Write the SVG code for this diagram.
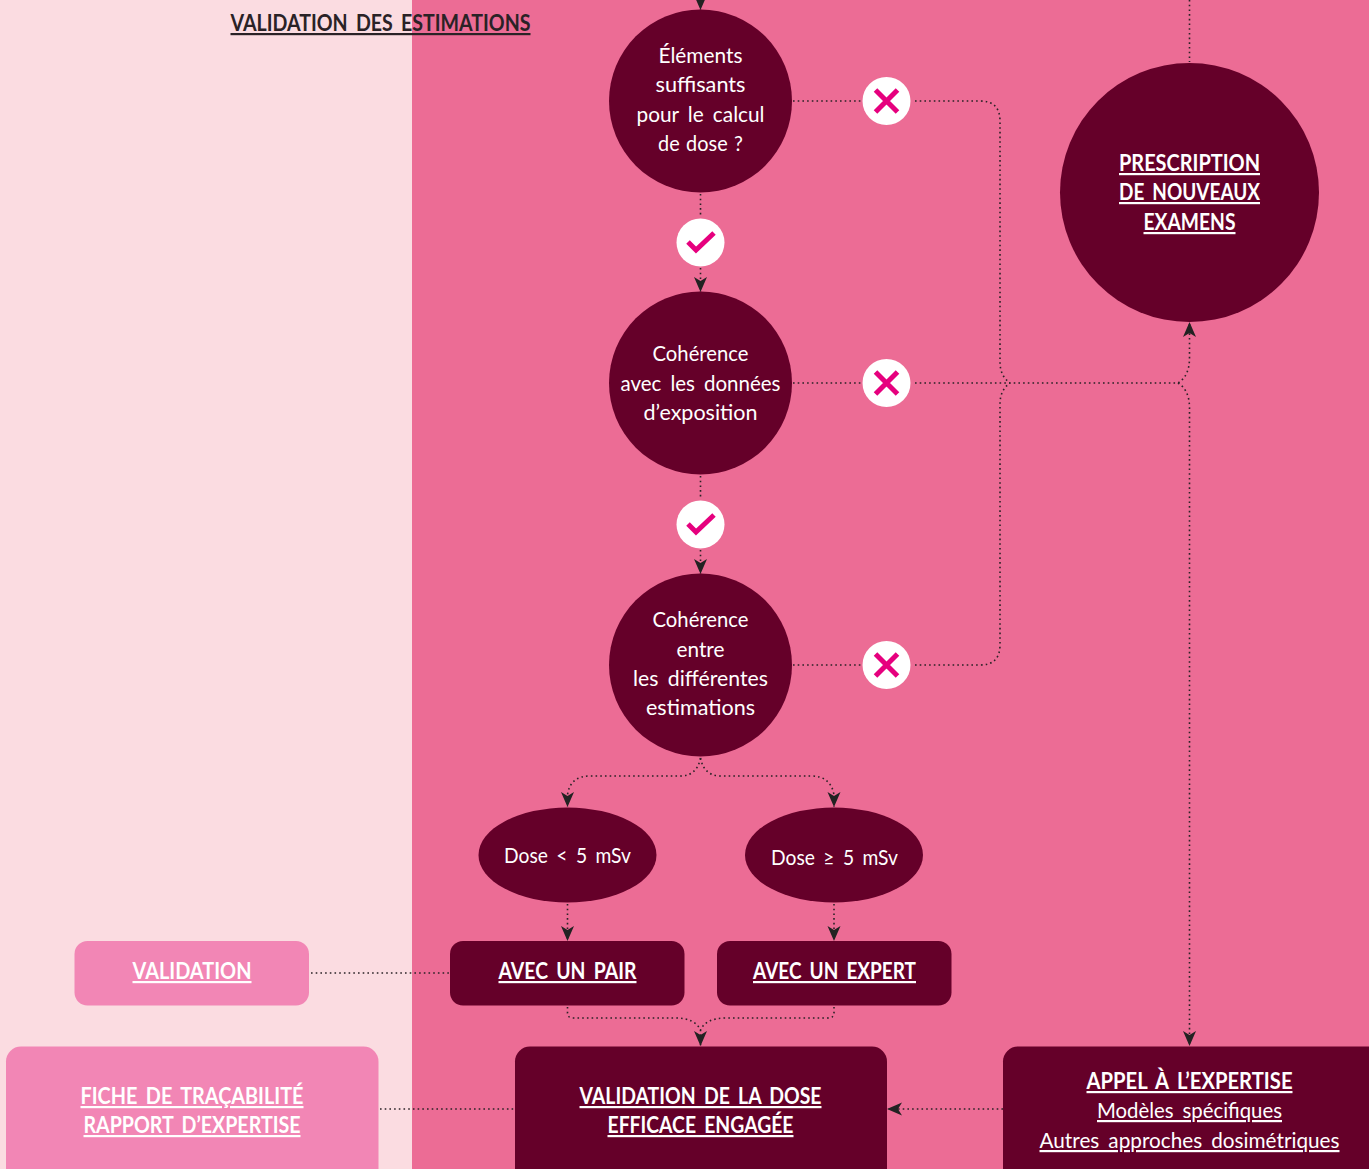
<svg xmlns="http://www.w3.org/2000/svg" width="1369" height="1169" viewBox="0 0 1369 1169">
<defs>
<marker id="arr" viewBox="0 0 15 14" refX="15" refY="7" markerWidth="15" markerHeight="14" markerUnits="userSpaceOnUse" orient="auto"><path d="M0 0.500L15 7L0 13.500L4 7Z" fill="#222"/></marker>
</defs>
<style>
text{font-family:"Lato","Noto Sans","Liberation Sans",sans-serif;fill:#fff;text-anchor:middle;font-size:22px;word-spacing:4px}
.b{font-weight:700;text-decoration:underline}
.d{fill:#650029}
.l{fill:#f286b5}
.c{fill:none;stroke:#2a2226;stroke-width:1.6;stroke-dasharray:1.6 3.1}
.m{fill:none;stroke:#e6007e;stroke-width:5}
</style>
<rect width="1369" height="1169" fill="#fbdce1"/>
<rect x="412" width="957" height="1169" fill="#ec6c95"/>
<g id="connectors">
<path class="c" d="M700.500 0V10" marker-end="url(#arr)"/>
<path class="c" d="M700.500 194V216"/>
<path class="c" d="M700.500 268V292" marker-end="url(#arr)"/>
<path class="c" d="M700.500 476V498"/>
<path class="c" d="M700.500 550V574" marker-end="url(#arr)"/>
<path class="c" d="M793 101H861"/>
<path class="c" d="M915 101H980Q1000 101 1000 121V362Q1000 376 1010 383"/>
<path class="c" d="M793 665H861"/>
<path class="c" d="M915 665H980Q1000 665 1000 645V404Q1000 390 1010 383"/>
<path class="c" d="M793 383H861"/>
<path class="c" d="M915 383H1178Q1189.500 376 1189.500 358V322" marker-end="url(#arr)"/>
<path class="c" d="M1178 383Q1189.500 390 1189.500 408V1046" marker-end="url(#arr)"/>
<path class="c" d="M1189.500 0V62"/>
<path class="c" d="M700.500 758Q697 776 680 776H590Q570 776 567.500 795V807" marker-end="url(#arr)"/>
<path class="c" d="M700.500 758Q704 776 721 776H811Q831 776 834 795V807" marker-end="url(#arr)"/>
<path class="c" d="M567.500 904V941" marker-end="url(#arr)"/>
<path class="c" d="M834 904V941" marker-end="url(#arr)"/>
<path class="c" d="M567.500 1007V1013Q567.500 1018 573 1018H675Q695 1018 700.500 1030V1046" marker-end="url(#arr)"/>
<path class="c" d="M834 1007V1013Q834 1018 828 1018H726Q706 1018 700.500 1030"/>
<path class="c" d="M311 973H450"/>
<path class="c" d="M380 1109H515"/>
<path class="c" d="M1003 1109H887" marker-end="url(#arr)"/>
</g>
<text class="b" x="380.500" y="31" style="fill:#2a2226" textLength="300" lengthAdjust="spacingAndGlyphs">VALIDATION DES ESTIMATIONS</text>
<g id="n1"><circle class="d" cx="700.500" cy="101" r="91.500"/>
<text x="700.500" y="63" textLength="84" lengthAdjust="spacingAndGlyphs">Éléments</text>
<text x="700.500" y="92" textLength="90" lengthAdjust="spacingAndGlyphs">suffisants</text>
<text x="700.500" y="122" textLength="128" lengthAdjust="spacingAndGlyphs">pour le calcul</text>
<text x="700.500" y="151" style="word-spacing:1.500px" textLength="85" lengthAdjust="spacingAndGlyphs">de dose ?</text></g>
<g id="n2"><circle class="d" cx="700.500" cy="383" r="91.500"/>
<text x="700.500" y="361" textLength="96" lengthAdjust="spacingAndGlyphs">Cohérence</text>
<text x="700.500" y="391" textLength="160" lengthAdjust="spacingAndGlyphs">avec les données</text>
<text x="700.500" y="420" textLength="114" lengthAdjust="spacingAndGlyphs">d’exposition</text></g>
<g id="n3"><circle class="d" cx="700.500" cy="665" r="91.500"/>
<text x="700.500" y="627" textLength="96" lengthAdjust="spacingAndGlyphs">Cohérence</text>
<text x="700.500" y="657" textLength="48" lengthAdjust="spacingAndGlyphs">entre</text>
<text x="700.500" y="686" textLength="135" lengthAdjust="spacingAndGlyphs">les différentes</text>
<text x="700.500" y="715" textLength="109" lengthAdjust="spacingAndGlyphs">estimations</text></g>
<g id="n4"><circle class="d" cx="1189.500" cy="192.500" r="129.500"/>
<text class="b" x="1189.500" y="171" textLength="141" lengthAdjust="spacingAndGlyphs">PRESCRIPTION</text>
<text class="b" x="1189.500" y="200" textLength="141" lengthAdjust="spacingAndGlyphs">DE NOUVEAUX</text>
<text class="b" x="1189.500" y="230" textLength="92" lengthAdjust="spacingAndGlyphs">EXAMENS</text></g>
<g id="n5"><ellipse class="d" cx="567.500" cy="855" rx="89" ry="47.500"/>
<text x="567.500" y="863" textLength="127" lengthAdjust="spacingAndGlyphs">Dose &lt; 5 mSv</text></g>
<g id="n6"><ellipse class="d" cx="834" cy="855" rx="89" ry="47.500"/>
<text x="834.500" y="865" textLength="127" lengthAdjust="spacingAndGlyphs">Dose ≥ 5 mSv</text></g>
<g id="n7"><rect class="d" x="450" y="941" width="234.500" height="64.500" rx="13"/>
<text class="b" x="567.500" y="979" textLength="138" lengthAdjust="spacingAndGlyphs">AVEC UN PAIR</text></g>
<g id="n8"><rect class="d" x="717" y="941" width="234.500" height="64.500" rx="13"/>
<text class="b" x="834.500" y="979" textLength="163" lengthAdjust="spacingAndGlyphs">AVEC UN EXPERT</text></g>
<g id="n9"><rect class="l" x="74.500" y="941" width="234.500" height="64.500" rx="13"/>
<text class="b" x="192" y="979" textLength="119" lengthAdjust="spacingAndGlyphs">VALIDATION</text></g>
<g id="n10"><rect class="l" x="6" y="1046.500" width="372.500" height="140" rx="15"/>
<text class="b" x="192" y="1104" textLength="223" lengthAdjust="spacingAndGlyphs">FICHE DE TRAÇABILITÉ</text>
<text class="b" x="192" y="1133" textLength="217" lengthAdjust="spacingAndGlyphs">RAPPORT D’EXPERTISE</text></g>
<g id="n11"><rect class="d" x="515" y="1046.500" width="372" height="140" rx="15"/>
<text class="b" x="700.500" y="1104" textLength="242" lengthAdjust="spacingAndGlyphs">VALIDATION DE LA DOSE</text>
<text class="b" x="700.500" y="1133" textLength="186" lengthAdjust="spacingAndGlyphs">EFFICACE ENGAGÉE</text></g>
<g id="n12"><rect class="d" x="1003" y="1046.500" width="400" height="140" rx="15"/>
<text class="b" x="1189.500" y="1089" textLength="206" lengthAdjust="spacingAndGlyphs">APPEL À L’EXPERTISE</text>
<text x="1189.500" y="1118" text-decoration="underline" textLength="185" lengthAdjust="spacingAndGlyphs">Modèles spécifiques</text>
<text x="1189.500" y="1148" text-decoration="underline" textLength="300" lengthAdjust="spacingAndGlyphs">Autres approches dosimétriques</text></g>
<g id="yes1"><circle cx="700.500" cy="242.500" r="24" fill="#fff"/><path class="m" d="M688 242L696 250L714 233"/></g>
<g id="yes2"><circle cx="700.500" cy="524.500" r="24" fill="#fff"/><path class="m" d="M688 524L696 532L714 515"/></g>
<g id="no1"><circle cx="886.500" cy="101" r="24" fill="#fff"/><path class="m" d="M875.500 90L897.500 112M897.500 90L875.500 112"/></g>
<g id="no2"><circle cx="886.500" cy="383" r="24" fill="#fff"/><path class="m" d="M875.500 372L897.500 394M897.500 372L875.500 394"/></g>
<g id="no3"><circle cx="886.500" cy="665" r="24" fill="#fff"/><path class="m" d="M875.500 654L897.500 676M897.500 654L875.500 676"/></g>
</svg>
